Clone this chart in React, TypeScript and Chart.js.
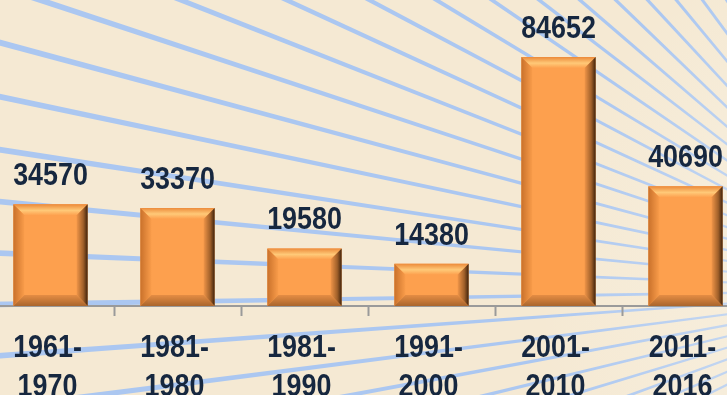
import React, { useEffect, useRef } from "react";
import { Chart, registerables } from "chart.js";

Chart.register(...registerables);

const categories: string[][] = [
  ["1961-", "1970"],
  ["1981-", "1980"],
  ["1981-", "1990"],
  ["1991-", "2000"],
  ["2001-", "2010"],
  ["2011-", "2016"],
];
const values: number[] = [34570, 33370, 19580, 14380, 84652, 40690];

const FONT = "'Liberation Sans', Arial, sans-serif";
const TEXT = "#16273f";
const SQUEEZE = 0.84;

function narrowText(ctx: CanvasRenderingContext2D, text: string, x: number, y: number) {
  ctx.save();
  ctx.translate(x, y);
  ctx.scale(SQUEEZE, 1);
  ctx.fillText(text, 0, 0);
  ctx.restore();
}

const backgroundPlugin = {
  id: "raysBg",
  beforeDraw(chart: any) {
    const ctx = chart.ctx as CanvasRenderingContext2D;
    const w = chart.width;
    const h = chart.height;
    ctx.save();
    ctx.fillStyle = "#f5e9d3";
    ctx.fillRect(0, 0, w, h);
    const sx = 930;
    const sy = 290;
    const L = 1400;
    for (let k = -40; k <= 40; k++) {
      const deg = 2.3 + 3.2 * k;
      const a = (deg * Math.PI) / 180;
      const dx = -Math.cos(a);
      const dy = -Math.sin(a);
      const px = -dy;
      const py = dx;
      const w0 = 0.6;
      const w1 = 0.6 + (L / 930) * 2.3;
      ctx.beginPath();
      ctx.moveTo(sx + px * w0, sy + py * w0);
      ctx.lineTo(sx + dx * L + px * w1, sy + dy * L + py * w1);
      ctx.lineTo(sx + dx * L - px * w1, sy + dy * L - py * w1);
      ctx.lineTo(sx - px * w0, sy - py * w0);
      ctx.closePath();
      ctx.fillStyle = "#abc7f1";
      ctx.fill();
    }
    const g = ctx.createRadialGradient(sx, sy, 0, sx, sy, 380);
    g.addColorStop(0, "rgba(250,248,240,0.6)");
    g.addColorStop(1, "rgba(250,248,240,0)");
    ctx.fillStyle = g;
    ctx.fillRect(0, 0, w, h);
    ctx.restore();
  },
};

const bevelPlugin = {
  id: "bevel",
  afterDatasetsDraw(chart: any) {
    const ctx = chart.ctx as CanvasRenderingContext2D;
    const meta = chart.getDatasetMeta(0);
    const data = chart.data.datasets[0].data as number[];
    ctx.save();
    meta.data.forEach((bar: any, i: number) => {
      const { x, y, base, width } = bar.getProps(["x", "y", "base", "width"], true);
      const Lx = x - width / 2;
      const Rx = x + width / 2;
      const T = y;
      const B = base;
      const b = Math.min(11, (B - T) / 2);
      let g = ctx.createLinearGradient(0, T, 0, T + b);
      g.addColorStop(0, "#ec8a3a");
      g.addColorStop(0.55, "#ffc978");
      g.addColorStop(1, "#fda04e");
      ctx.fillStyle = g;
      ctx.beginPath();
      ctx.moveTo(Lx, T);
      ctx.lineTo(Rx, T);
      ctx.lineTo(Rx - b, T + b);
      ctx.lineTo(Lx + b, T + b);
      ctx.closePath();
      ctx.fill();
      g = ctx.createLinearGradient(Lx, 0, Lx + b, 0);
      g.addColorStop(0, "#c9712b");
      g.addColorStop(1, "#f99c4a");
      ctx.fillStyle = g;
      ctx.beginPath();
      ctx.moveTo(Lx, T);
      ctx.lineTo(Lx + b, T + b);
      ctx.lineTo(Lx + b, B - b);
      ctx.lineTo(Lx, B);
      ctx.closePath();
      ctx.fill();
      g = ctx.createLinearGradient(Rx - b, 0, Rx, 0);
      g.addColorStop(0, "#f09548");
      g.addColorStop(0.6, "#a0602a");
      g.addColorStop(1, "#3e220c");
      ctx.fillStyle = g;
      ctx.beginPath();
      ctx.moveTo(Rx, T);
      ctx.lineTo(Rx, B);
      ctx.lineTo(Rx - b, B - b);
      ctx.lineTo(Rx - b, T + b);
      ctx.closePath();
      ctx.fill();
      g = ctx.createLinearGradient(0, B - b, 0, B);
      g.addColorStop(0, "#e58d44");
      g.addColorStop(1, "#a9652c");
      ctx.fillStyle = g;
      ctx.beginPath();
      ctx.moveTo(Lx, B);
      ctx.lineTo(Rx, B);
      ctx.lineTo(Rx - b, B - b);
      ctx.lineTo(Lx + b, B - b);
      ctx.closePath();
      ctx.fill();
      ctx.fillStyle = TEXT;
      ctx.font = `bold 32px ${FONT}`;
      ctx.textAlign = "center";
      ctx.textBaseline = "alphabetic";
      narrowText(ctx, String(data[i]), x, T - 19);
    });
    // category labels from the x scale
    const xs = chart.scales.x;
    const axisY = xs.top;
    const labels = chart.data.labels as string[][];
    labels.forEach((lines, i) => {
      const cx = xs.getPixelForTick(i) - 3;
      lines.forEach((ln, j) => {
        narrowText(ctx, ln, cx, axisY + 51 + j * 38.5);
      });
    });
    ctx.restore();
  },
};

export default function App() {
  const ref = useRef<HTMLCanvasElement | null>(null);
  useEffect(() => {
    if (!ref.current) return;
    const chart = new Chart(ref.current, {
      type: "bar",
      data: {
        labels: categories,
        datasets: [
          {
            data: values,
            backgroundColor: "#fda04e",
            borderWidth: 0,
            barPercentage: 0.585,
            categoryPercentage: 1,
          },
        ],
      },
      options: {
        animation: false,
        responsive: false,
        maintainAspectRatio: false,
        layout: { padding: { top: 12, left: 0, right: 0, bottom: 0 } },
        plugins: { legend: { display: false }, tooltip: { enabled: false } },
        scales: {
          x: {
            offset: true,
            grid: {
              display: true,
              drawOnChartArea: false,
              drawTicks: true,
              tickLength: 10,
              tickWidth: 2,
              tickColor: "#9a9a9a",
              offset: true,
            },
            border: { display: true, color: "#9a9a9a", width: 2 },
            ticks: { display: false },
            afterFit: (scale: any) => {
              scale.height = 89;
            },
          },
          y: {
            display: false,
            min: 0,
            max: 100000,
          },
        },
      },
      plugins: [backgroundPlugin, bevelPlugin],
    });
    return () => chart.destroy();
  }, []);
  return (
    <div style={{ position: "fixed", left: 0, top: 0, width: 727, height: 395, overflow: "hidden" }}>
      <canvas
        ref={ref}
        width={762}
        height={395}
        style={{ position: "absolute", left: -13, top: 0, width: 762, height: 395 }}
      />
    </div>
  );
}
